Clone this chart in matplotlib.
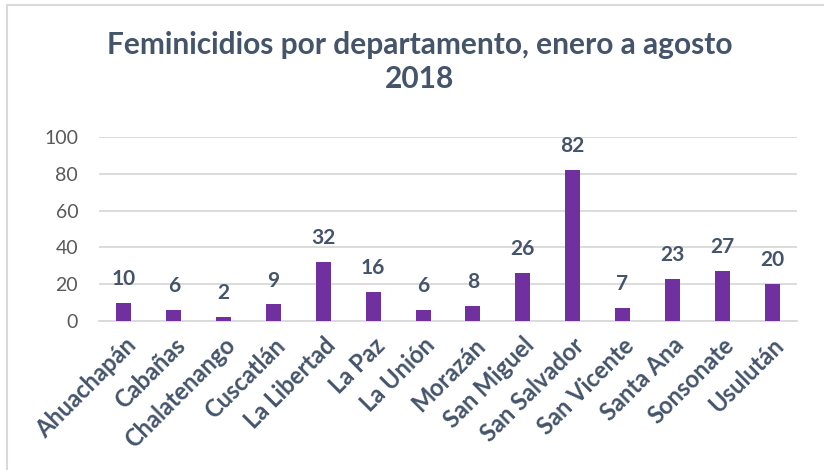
import matplotlib
matplotlib.use("Agg")
import matplotlib.pyplot as plt
from matplotlib.patches import Rectangle

departamentos = ["Ahuachapán", "Cabañas", "Chalatenango", "Cuscatlán", "La Libertad",
                 "La Paz", "La Unión", "Morazán", "San Miguel", "San Salvador",
                 "San Vicente", "Santa Ana", "Sonsonate", "Usulután"]
feminicidios = [10, 6, 2, 9, 32, 16, 6, 8, 26, 82, 7, 23, 27, 20]
yticks = [0, 20, 40, 60, 80, 100]
titulo = "Feminicidios por departamento, enero a agosto\n2018"

plt.rcParams['font.family'] = ['Lato', 'DejaVu Sans']
W, H = 824, 470
fig = plt.figure(figsize=(W / 100, H / 100), dpi=100)
fig.patch.set_facecolor("white")

# chart border (cropped screenshot: only left and top visible)
fig.add_artist(Rectangle((7 / W, -0.05), 1.2, 1 - 5 / H + 0.05, transform=fig.transFigure,
                         fill=False, edgecolor="#D9D9D9", linewidth=1.5))

ax = fig.add_axes([99 / W, 1 - 321 / H, (797 - 99) / W, (321 - 137) / H])
x = list(range(len(departamentos)))
bars = ax.bar(x, feminicidios, width=0.3, color="#7030A0", zorder=3)
ax.set_xlim(-0.5, len(departamentos) - 0.5)
ax.set_ylim(0, 100)
ax.set_yticks(yticks)
ax.set_yticklabels([str(v) for v in yticks])
ax.grid(axis="y", color="#D9D9D9", linewidth=1.3, zorder=0)
for s in ["top", "right", "left"]:
    ax.spines[s].set_visible(False)
ax.spines["bottom"].set_color("#D9D9D9")
ax.spines["bottom"].set_linewidth(1.3)
ax.tick_params(axis="y", length=0, labelsize=14, labelcolor="#595959", pad=15)
ax.tick_params(axis="x", length=0, pad=9)
ax.set_xticks(x)
ax.set_xticklabels(departamentos, rotation=45, ha="right", rotation_mode="anchor",
                   fontsize=17, fontweight="bold", color="#44546A")

for xi, v in zip(x, feminicidios):
    ax.annotate(str(v), (xi, v), xytext=(0, 10), textcoords="offset points",
                ha="center", va="bottom", fontsize=15, fontweight="bold", color="#44546A")

fig.text(420 / W, 1 - 62 / H, titulo, ha="center", va="center", fontsize=21.5,
         fontweight="bold", color="#44546A", linespacing=1.3)

fig.savefig("out.png", dpi=100, facecolor="white")
